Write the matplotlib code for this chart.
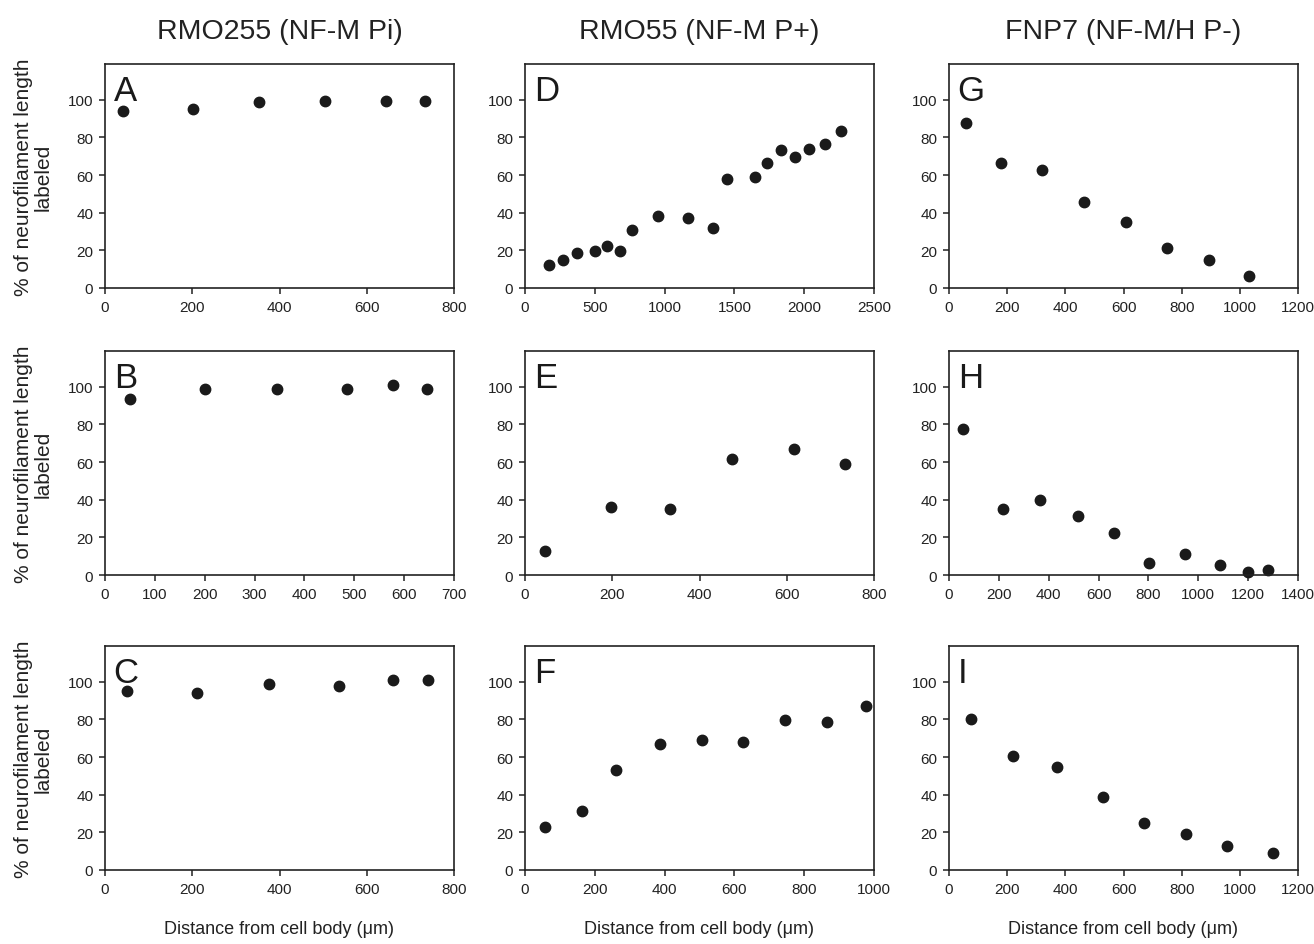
import matplotlib
matplotlib.use("Agg")
import matplotlib.pyplot as plt

plt.rcParams['font.family'] = ['Liberation Sans', 'DejaVu Sans']

# column headers
col_titles = ['RMO255 (NF-M Pi)', 'RMO55 (NF-M P+)', 'FNP7 (NF-M/H P-)']

# panel data: distance from cell body (um), % labeled
a_x = [42, 201, 354, 504, 645, 734]
a_y = [94, 95, 98.8, 99.6, 99.6, 99.6]

b_x = [51, 200, 344, 486, 577, 645]
b_y = [93.3, 98.9, 98.9, 98.9, 100.9, 98.9]

c_x = [50, 211, 377, 536, 660, 741]
c_y = [95, 94.2, 98.8, 97.7, 100.7, 100.7]

d_x = [172, 274, 375, 499, 589, 677, 763, 954, 1167, 1348,
       1446, 1646, 1734, 1837, 1935, 2037, 2152, 2261]
d_y = [12.1, 15, 18.7, 19.6, 22.4, 19.6, 30.8, 38.4, 37.4, 31.7,
       58, 59, 66.5, 73.1, 69.4, 74, 76.3, 83.5]

e_x = [46, 196, 332, 475, 616, 734]
e_y = [12.8, 36.2, 35.2, 61.6, 67.1, 58.8]

f_x = [57, 164, 260, 386, 508, 624, 744, 866, 977]
f_y = [23.1, 31.5, 53.2, 67.1, 69.2, 68.1, 79.5, 78.5, 87]

g_x = [58, 179, 319, 463, 609, 748, 894, 1033]
g_y = [87.8, 66.2, 62.5, 45.7, 35.2, 21.2, 14.7, 6.4]

h_x = [58, 215, 364, 519, 662, 803, 945, 1086, 1200, 1278]
h_y = [77.4, 35.2, 40, 31.6, 22.4, 6.2, 11, 5.3, 1.8, 2.7]

i_x = [74, 220, 373, 529, 670, 815, 955, 1114]
i_y = [80, 60.4, 54.9, 38.9, 25, 19.3, 12.7, 9]

# x-axis limits and tick steps per panel
panels = {
    'A': (a_x, a_y, 800, 200), 'B': (b_x, b_y, 700, 100), 'C': (c_x, c_y, 800, 200),
    'D': (d_x, d_y, 2500, 500), 'E': (e_x, e_y, 800, 200), 'F': (f_x, f_y, 1000, 200),
    'G': (g_x, g_y, 1200, 200), 'H': (h_x, h_y, 1400, 200), 'I': (i_x, i_y, 1200, 200),
}
layout = [['A', 'D', 'G'], ['B', 'E', 'H'], ['C', 'F', 'I']]

fig = plt.figure(figsize=(13.14, 9.45), dpi=100)

W, H = 1314, 945
col_left = [105, 525, 949]
col_w = 349
row_top = [65, 352, 647]
row_h = 224

dark = '#1a1a1a'
for r in range(3):
    for c in range(3):
        name = layout[r][c]
        xs, ys, xmax, step = panels[name]
        ax = fig.add_axes([col_left[c] / W, 1 - (row_top[r] + row_h) / H,
                           col_w / W, row_h / H])
        ax.plot(xs, ys, 'o', color=dark, ms=7.5, clip_on=False)
        ax.set_xlim(0, xmax)
        ax.set_ylim(0, 119)
        ax.set_xticks(range(0, xmax + 1, step))
        ax.set_yticks(range(0, 101, 20))
        ax.tick_params(direction='out', length=4.5, width=1.1, labelsize=11,
                       colors='#222222', pad=4)
        for sp in ax.spines.values():
            sp.set_linewidth(1.2)
            sp.set_color('#222222')
        ax.text(0.025, 0.955, name, transform=ax.transAxes, ha='left', va='top',
                fontsize=25, color=dark)

        if c == 0:
            fig.text(33 / W, 1 - (row_top[r] + row_h / 2) / H,
                     '% of neurofilament length\nlabeled', rotation=90,
                     ha='center', va='center', fontsize=15, color='#222222',
                     multialignment='center', linespacing=1.05)
        if r == 0:
            fig.text((col_left[c] + col_w / 2) / W, 1 - 32 / H, col_titles[c],
                     ha='center', va='center', fontsize=20.5, color='#222222')
        if r == 2:
            fig.text((col_left[c] + col_w / 2) / W, 1 - 930 / H,
                     'Distance from cell body (\u03bcm)', ha='center', va='center',
                     fontsize=13, color='#222222')

fig.savefig('out.png', dpi=100)
